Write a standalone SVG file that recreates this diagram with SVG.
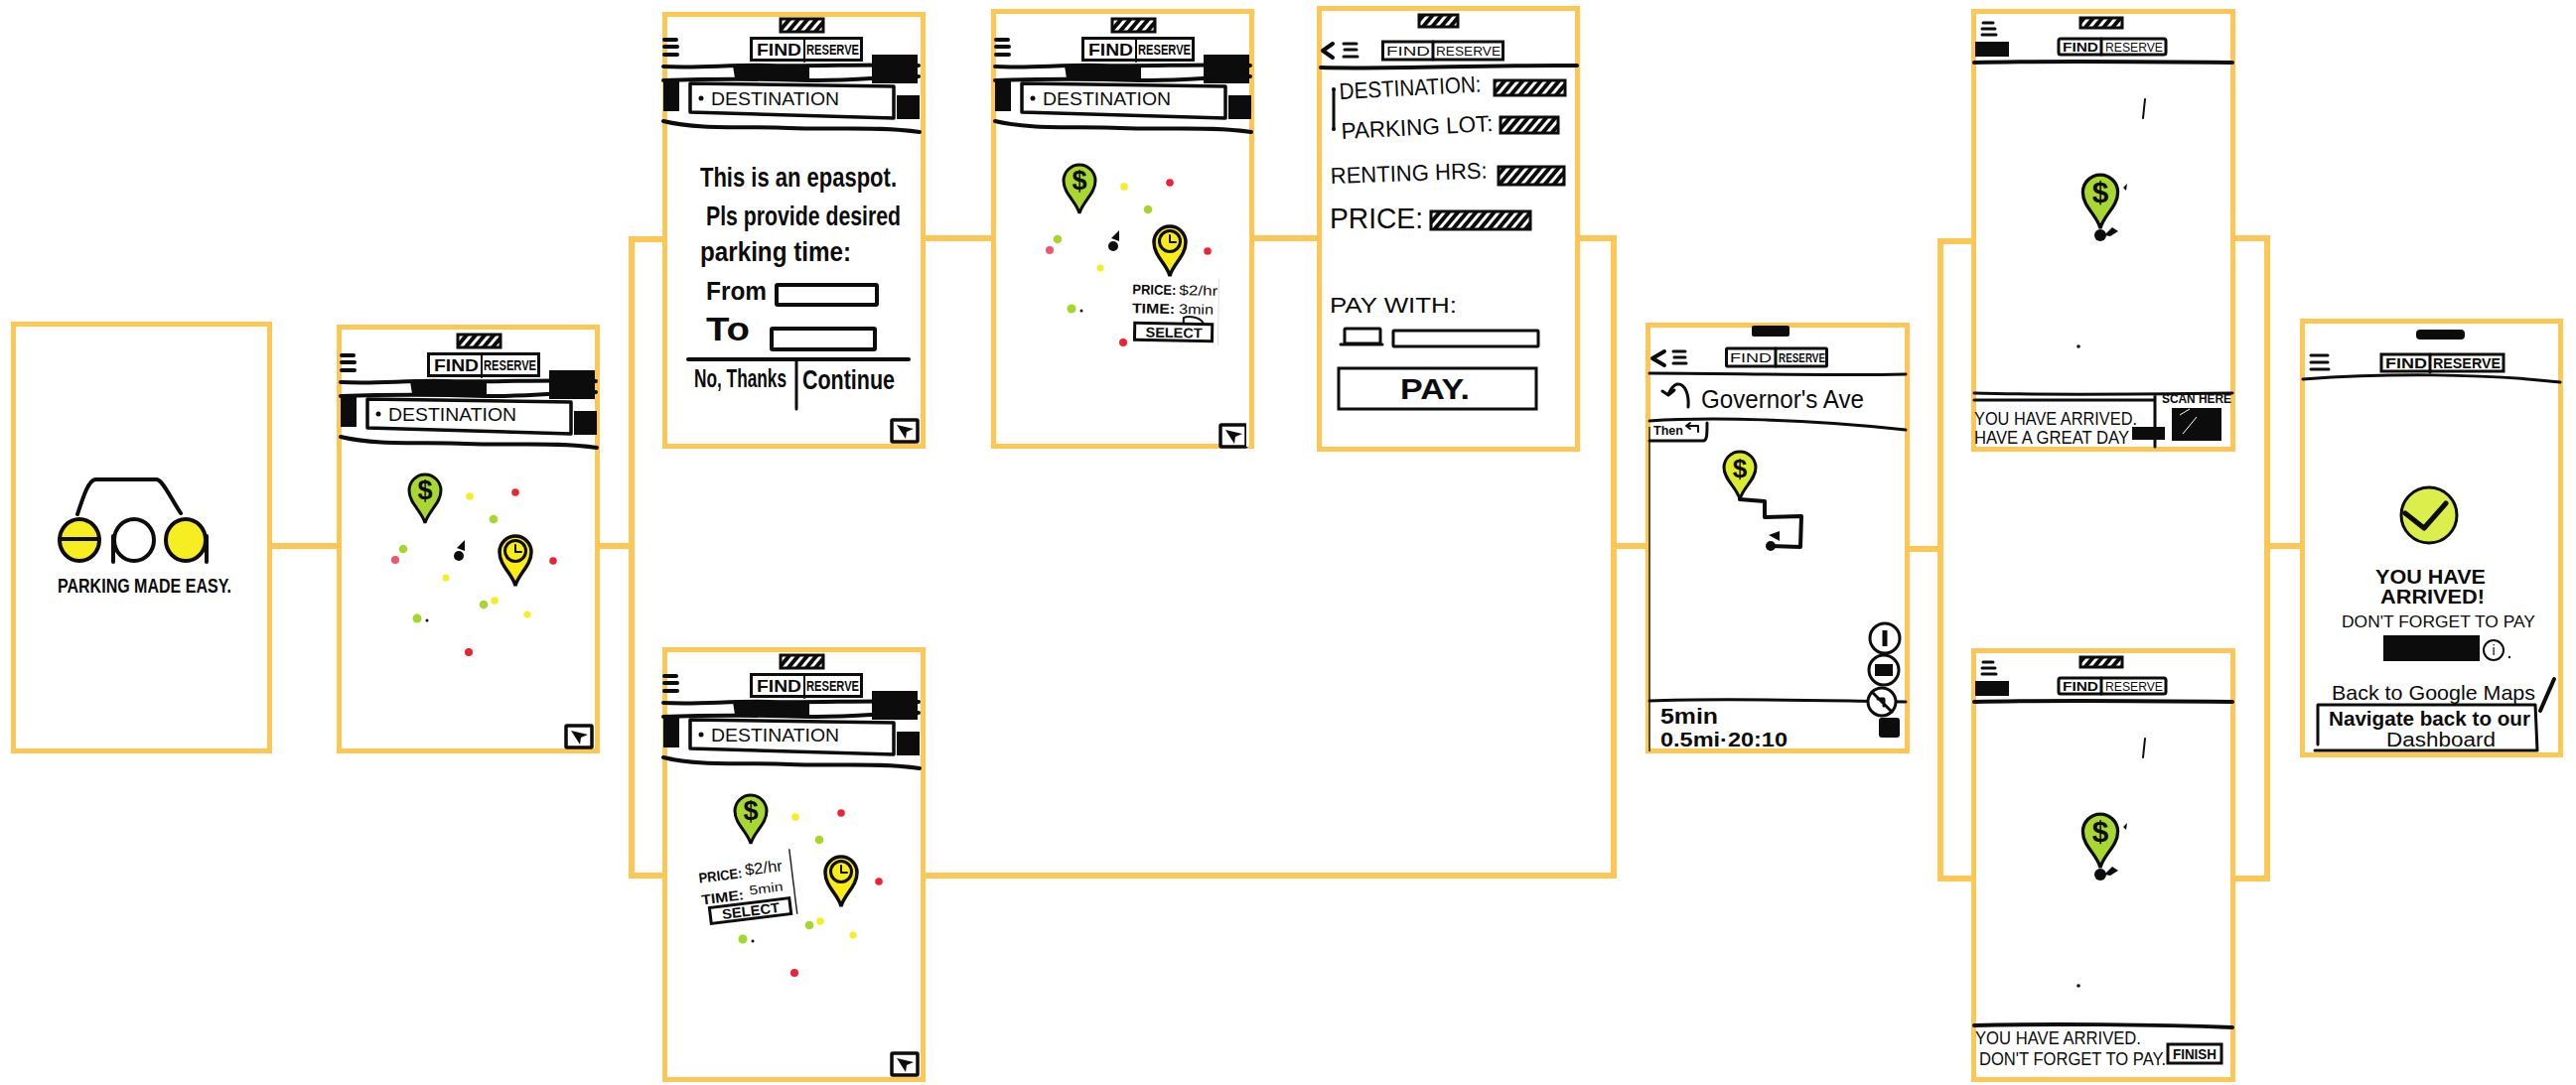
<svg xmlns="http://www.w3.org/2000/svg" width="2594" height="1093" viewBox="0 0 2594 1093">
<style>
text{font-family:"Liberation Sans",Arial,sans-serif;fill:#0c0c0c}
.frame{fill:#fff;stroke:#FDC655;stroke-width:5}
.conn{fill:none;stroke:#FDC655;stroke-width:6;stroke-linejoin:miter}
.k{fill:none;stroke:#0c0c0c;stroke-width:3;stroke-linecap:round;stroke-linejoin:round}
.k2{fill:none;stroke:#0c0c0c;stroke-width:2;stroke-linecap:round;stroke-linejoin:round}
.k4{fill:none;stroke:#0c0c0c;stroke-width:4;stroke-linecap:round;stroke-linejoin:round}
.bk{fill:#0c0c0c}
.hb{fill:url(#hatch);stroke:#0c0c0c;stroke-width:3}
.w{fill:#fff;stroke:none}
.g{fill:#A3D82B}.y{fill:#F7EE21}.r{fill:#EE2233}.p{fill:#F0556B}
.bold{font-weight:700}
</style>
<defs>
<pattern id="hatch" width="7" height="7" patternUnits="userSpaceOnUse" patternTransform="rotate(40)"><rect width="7" height="7" fill="#fff"/><rect width="4" height="7" fill="#0c0c0c"/></pattern>
<g id="pin-dollar"><path d="M0 0C-3-12-16-20-16-33A16 16 0 0 1 16-33C16-20 3-12 0 0Z" fill="#A9D732" stroke="#0c0c0c" stroke-width="3"/><text x="0" y="-24" font-size="27" font-weight="700" text-anchor="middle">$</text></g>
<g id="pin-clock"><path d="M0 0C-3-12-16-20-16-34A16 16 0 0 1 16-34C16-20 3-12 0 0Z" fill="#F9EC16" stroke="#0c0c0c" stroke-width="3.500"/><circle cy="-35" r="10.500" fill="#F9EC16" stroke="#0c0c0c" stroke-width="3"/><path d="M0-41V-34H6" class="k2"/></g>
<g id="arrowbox"><rect width="26" height="22" rx="1" fill="#fff" stroke="#0c0c0c" stroke-width="3.500"/><path d="M5 5 22 9 15 12 14 19Z" class="bk"/></g>
<g id="header">
<rect x="122" y="10" width="43" height="13" class="hb"/>
<path d="M5 31H17M5 38H18M5 46H18" class="k4"/>
<rect x="92.500" y="29.500" width="111" height="22" fill="#fff" stroke="#0c0c0c" stroke-width="3"/>
<path d="M146 29V53" class="k2"/>
<text x="98" y="47" font-size="17" class="bold" textLength="45" lengthAdjust="spacingAndGlyphs">FIND</text>
<text x="148" y="46" font-size="14" class="bold" textLength="53" lengthAdjust="spacingAndGlyphs">RESERVE</text>
<path d="M4 58C40 60 70 56 110 57 160 58 220 55 261 57" class="k4"/>
<path d="M4 72C60 70 120 71 150 72 190 73 230 68 261 68" class="k4"/>
<path d="M74 57H151V70H76Z" class="bk"/>
<rect x="214" y="46" width="46" height="29" class="bk"/>
<rect x="4" y="72" width="16" height="31" class="bk"/>
<path d="M31 75 236 78V110L31 104Z" fill="#fff" stroke="#0c0c0c" stroke-width="3.500" stroke-linejoin="round"/>
<circle cx="42" cy="90" r="2.500" class="bk"/>
<text x="52" y="97" font-size="18" textLength="129" lengthAdjust="spacingAndGlyphs">DESTINATION</text>
<rect x="239" y="87" width="23" height="24" class="bk"/>
<path d="M4 113C40 122 90 118 130 120 180 122 220 118 262 124" class="k4"/>
</g>
<g id="dots">
<circle cx="134" cy="173" r="3.800" class="y"/><circle cx="180" cy="169" r="3.800" class="r"/>
<circle cx="158" cy="196" r="4.300" class="g"/><circle cx="67" cy="226" r="4.300" class="g"/>
<circle cx="59" cy="237" r="4" class="p"/><circle cx="110" cy="255" r="3.500" class="y"/>
<circle cx="218" cy="238" r="3.800" class="r"/><circle cx="148" cy="282" r="4.300" class="g"/>
<circle cx="159" cy="278" r="3.800" class="y"/><circle cx="192" cy="292" r="3.600" class="y"/>
<circle cx="81" cy="296" r="4.500" class="g"/><circle cx="91" cy="298" r="1.500" class="bk"/>
<circle cx="133" cy="330" r="4" class="r"/><circle cx="123" cy="233" r="5" class="bk"/>
<path d="M121 225 129 217V228Z" class="bk"/>
<use href="#pin-dollar" x="89" y="200"/><use href="#pin-clock" x="180" y="263"/>
</g>
<g id="arrival">
<rect x="110" y="9" width="42" height="10" class="hb"/>
<path d="M12 14H22M11 20H24M11 26H25" class="k"/>
<rect x="4" y="33" width="34" height="15" class="bk"/>
<rect x="88" y="30" width="108" height="16" rx="2" fill="#fff" stroke="#0c0c0c" stroke-width="3"/>
<path d="M131 30V46" class="k"/>
<text x="92" y="43" font-size="13" class="bold" textLength="36" lengthAdjust="spacingAndGlyphs">FIND</text>
<text x="135" y="43" font-size="13" textLength="58" lengthAdjust="spacingAndGlyphs">RESERVE</text>
<path d="M3 54C80 52 180 53 263 54" class="k4"/>
<path d="M175 91 173 110" class="k2"/>
<g transform="translate(130 221) scale(1.100)"><use href="#pin-dollar"/></g>
<circle cx="130" cy="228" r="6" class="bk"/><path d="M134 228 142 220 148 224 140 229Z" class="bk"/>
<path d="M157 176 156 183 153 180Z" class="bk"/>
<circle cx="108" cy="340" r="1.800" class="bk"/>
</g>
</defs>

<g id="connectors">
<path class="conn" d="M274 550H339"/>
<path class="conn" d="M604 550H636M667 241H636V882H667"/>
<path class="conn" d="M932 240H998M1263 240H1326"/>
<path class="conn" d="M1591 240H1625V882H932"/>
<path class="conn" d="M1625 550H1657"/>
<path class="conn" d="M1923 553H1954M1985 243H1954V885H1985"/>
<path class="conn" d="M2251 240H2283V885H2251"/>
<path class="conn" d="M2283 550H2316"/>
</g>

<g id="node-splash">
<rect x="13.500" y="326.500" width="258" height="430" class="frame"/>
<path d="M78 518C84 500 89 484 96 483H158C164 484 172 502 182 517" class="k4"/>
<ellipse cx="80" cy="544" rx="20" ry="21" fill="#F7EE21" stroke="#0c0c0c" stroke-width="4"/>
<path d="M60 543H100" class="k4"/>
<ellipse cx="135" cy="544" rx="20" ry="21" fill="#fff" stroke="#0c0c0c" stroke-width="4"/>
<path d="M114 540V566" class="k4"/>
<ellipse cx="187" cy="544" rx="20" ry="21" fill="#F7EE21" stroke="#0c0c0c" stroke-width="4"/>
<path d="M208 540V566" class="k4"/>
<text x="58" y="597" font-size="20" class="bold" textLength="175" lengthAdjust="spacingAndGlyphs">PARKING MADE EASY.</text>
</g>

<g id="node-map">
<rect x="341.500" y="329.500" width="260" height="427" class="frame"/>
<use href="#header" x="339" y="327"/>
<use href="#dots" x="339" y="327"/>
<use href="#arrowbox" x="570" y="731"/>
</g>

<g id="node-form">
<rect x="669.500" y="14.500" width="260" height="435" class="frame"/>
<use href="#header" x="664" y="9"/>
<text x="705" y="188" font-size="28" class="bold" textLength="198" lengthAdjust="spacingAndGlyphs">This is an epaspot.</text>
<text x="711" y="227" font-size="28" class="bold" textLength="196" lengthAdjust="spacingAndGlyphs">Pls provide desired</text>
<text x="705" y="263" font-size="28" class="bold" textLength="152" lengthAdjust="spacingAndGlyphs">parking time:</text>
<text x="711" y="302" font-size="26" class="bold" textLength="61" lengthAdjust="spacingAndGlyphs">From</text>
<rect x="782" y="287" width="101" height="20" rx="1" fill="#fff" stroke="#0c0c0c" stroke-width="4"/>
<text x="711" y="343" font-size="34" class="bold" textLength="44" lengthAdjust="spacingAndGlyphs">To</text>
<rect x="777" y="331" width="104" height="21" rx="1" fill="#fff" stroke="#0c0c0c" stroke-width="4"/>
<path d="M693 362H915" class="k4"/><path d="M802 362V412" class="k"/>
<text x="699" y="390" font-size="26" class="bold" textLength="93" lengthAdjust="spacingAndGlyphs">No, Thanks</text>
<text x="808" y="392" font-size="28" class="bold" textLength="93" lengthAdjust="spacingAndGlyphs">Continue</text>
<use href="#arrowbox" x="898" y="423"/>
</g>

<g id="node-select-clock">
<rect x="1000.500" y="11.500" width="260" height="438" class="frame"/>
<use href="#header" x="998" y="9"/>
<use href="#dots" x="998" y="15"/>
<use href="#arrowbox" x="1229" y="428"/>
<rect x="1255" y="425" width="3" height="25" class="w"/>
<g transform="rotate(1 1183 312)">
<rect x="1138" y="280" width="90" height="67" class="w"/>
<path d="M1227 280V347" stroke="#ddd" stroke-width="1"/>
<text x="1140" y="297" font-size="14" class="bold" textLength="44" lengthAdjust="spacingAndGlyphs">PRICE:</text>
<text x="1187" y="297" font-size="14" textLength="39" lengthAdjust="spacingAndGlyphs">$2/hr</text>
<text x="1140" y="316" font-size="14" class="bold" textLength="43" lengthAdjust="spacingAndGlyphs">TIME:</text>
<text x="1187" y="316" font-size="14" textLength="35" lengthAdjust="spacingAndGlyphs">3min</text>
<path d="M1192 325V320C1196 318 1208 318 1212 325" class="k2"/>
<rect x="1143" y="326" width="78" height="17" fill="#fff" stroke="#0c0c0c" stroke-width="3"/>
<text x="1154" y="340" font-size="14" class="bold" textLength="57" lengthAdjust="spacingAndGlyphs">SELECT</text>
</g>
</g>

<g id="node-select-dollar">
<rect x="669.500" y="654.500" width="260" height="433" class="frame"/>
<use href="#header" x="664" y="650"/>
<use href="#dots" x="667" y="650"/>
<use href="#arrowbox" x="898" y="1061"/>
<g transform="rotate(-7 750 893)">
<rect x="703" y="861" width="97" height="66" class="w"/>
<path d="M799 861V927" stroke="#222" stroke-width="1.500"/>
<text x="705" y="884" font-size="14" class="bold" textLength="44" lengthAdjust="spacingAndGlyphs">PRICE:</text>
<text x="752" y="882" font-size="16" textLength="38" lengthAdjust="spacingAndGlyphs">$2/hr</text>
<text x="705" y="906" font-size="14" class="bold" textLength="43" lengthAdjust="spacingAndGlyphs">TIME:</text>
<text x="754" y="902" font-size="13" textLength="34" lengthAdjust="spacingAndGlyphs">5min</text>
<rect x="712" y="910" width="81" height="16" fill="#fff" stroke="#0c0c0c" stroke-width="3"/>
<text x="724" y="923" font-size="14" class="bold" textLength="58" lengthAdjust="spacingAndGlyphs">SELECT</text>
</g>
</g>

<g id="node-pay">
<rect x="1328.500" y="8.500" width="260" height="444" class="frame"/>
<rect x="1429" y="15" width="39" height="12" class="hb"/>
<path d="M1342 44 1332 51 1342 58" class="k4"/>
<path d="M1353 44H1366M1354 50H1366M1353 57H1367" class="k"/>
<rect x="1392.500" y="42" width="121" height="18" fill="#fff" stroke="#0c0c0c" stroke-width="3"/>
<path d="M1443 42V60" class="k"/>
<text x="1396" y="56" font-size="13" textLength="44" lengthAdjust="spacingAndGlyphs">FIND</text>
<text x="1446" y="56" font-size="13" textLength="65" lengthAdjust="spacingAndGlyphs">RESERVE</text>
<path d="M1330 68C1400 70 1500 65 1588 66" class="k4"/>
<path d="M1343 90V130" class="k"/><circle cx="1343" cy="90" r="2" class="bk"/><circle cx="1343" cy="130" r="2" class="bk"/>
<text x="1349" y="100" font-size="23" transform="rotate(-3 1349 100)" textLength="143" lengthAdjust="spacingAndGlyphs">DESTINATION:</text>
<rect x="1505" y="81" width="71" height="15" class="hb"/>
<text x="1351" y="140" font-size="23" transform="rotate(-3 1351 140)" textLength="153" lengthAdjust="spacingAndGlyphs">PARKING LOT:</text>
<rect x="1511" y="118" width="58" height="16" class="hb"/>
<text x="1340" y="185" font-size="23" transform="rotate(-2 1340 185)" textLength="158" lengthAdjust="spacingAndGlyphs">RENTING HRS:</text>
<rect x="1509" y="168" width="66" height="18" class="hb"/>
<text x="1339" y="230" font-size="30" textLength="94" lengthAdjust="spacingAndGlyphs">PRICE:</text>
<rect x="1441" y="213" width="100" height="18" class="hb"/>
<text x="1339" y="315" font-size="22" textLength="128" lengthAdjust="spacingAndGlyphs">PAY WITH:</text>
<rect x="1354" y="331" width="36" height="15" rx="1" fill="#fff" stroke="#0c0c0c" stroke-width="3"/>
<path d="M1350 347H1392" class="k"/>
<rect x="1403" y="333" width="146" height="16" rx="1" fill="#fff" stroke="#0c0c0c" stroke-width="3"/>
<rect x="1348" y="371" width="199" height="41" fill="#fff" stroke="#0c0c0c" stroke-width="3"/>
<text x="1410" y="402" font-size="30" class="bold" textLength="70" lengthAdjust="spacingAndGlyphs">PAY.</text>
</g>

<g id="node-navigate">
<rect x="1659.500" y="327.500" width="261" height="429" class="frame"/>
<path d="M1661 430V757" stroke="#222" stroke-width="1.500"/>
<rect x="1764" y="328" width="38" height="11" rx="2" class="bk"/>
<path d="M1676 354 1664 361 1676 368" class="k4"/>
<path d="M1685 354H1697M1686 360H1697M1685 366H1698" class="k"/>
<rect x="1738.500" y="351" width="101" height="18" rx="1" fill="#fff" stroke="#0c0c0c" stroke-width="3"/>
<path d="M1788 351V369" class="k"/>
<text x="1742" y="365" font-size="13" textLength="42" lengthAdjust="spacingAndGlyphs">FIND</text>
<text x="1791" y="365" font-size="13" class="bold" textLength="47" lengthAdjust="spacingAndGlyphs">RESERVE</text>
<path d="M1661 376C1740 376 1840 379 1919 377" class="k"/>
<path d="M1700 410C1701 398 1697 386 1689 387 1684 388 1682 393 1680 397M1674 394 1680 398 1686 393" class="k"/>
<text x="1713" y="411" font-size="26" textLength="164" lengthAdjust="spacingAndGlyphs">Governor's Ave</text>
<path d="M1661 424C1720 420 1820 422 1919 433" class="k"/>
<path d="M1661 444H1715C1719 444 1719 438 1719 426" class="k"/>
<text x="1665" y="438" font-size="13" class="bold" textLength="30" lengthAdjust="spacingAndGlyphs">Then</text>
<path d="M1710 435V429H1698M1702 426 1698 429 1702 432" class="k2"/>
<g transform="translate(1752 503)"><path d="M0 0C-3-12-16-20-16-32A16 16 0 0 1 16-32C16-20 3-12 0 0Z" fill="#DDEB2E" stroke="#0c0c0c" stroke-width="3"/><text y="-22" font-size="26" font-weight="700" text-anchor="middle">$</text></g>
<path d="M1752 503 1777 505V521L1814 520 1813 551 1783 550" class="k4"/>
<circle cx="1783" cy="550" r="5" class="bk"/><path d="M1781 539 1792 535V545Z" class="bk"/>
<circle cx="1898" cy="643" r="15" fill="#fff" stroke="#0c0c0c" stroke-width="3"/><path d="M1898 635V651" stroke="#0c0c0c" stroke-width="5"/>
<circle cx="1897" cy="675" r="15" fill="#fff" stroke="#0c0c0c" stroke-width="3"/><rect x="1888" y="669" width="18" height="12" class="bk"/>
<path d="M1661 706C1740 703 1840 706 1919 707" class="k"/>
<circle cx="1895" cy="707" r="14" fill="#fff" stroke="#0c0c0c" stroke-width="3"/><path d="M1885 697 1905 717M1891 704H1897V711" class="k"/>
<rect x="1892" y="723" width="21" height="20" rx="3" class="bk"/>
<text x="1672" y="729" font-size="22" class="bold" textLength="58" lengthAdjust="spacingAndGlyphs">5min</text>
<text x="1672" y="752" font-size="20" class="bold" textLength="128" lengthAdjust="spacingAndGlyphs">0.5mi·20:10</text>
</g>

<g id="node-scan">
<rect x="1987.500" y="11.500" width="261" height="441" class="frame"/>
<use href="#arrival" x="1985" y="9"/>
<path d="M1988 396C2060 398 2170 397 2248 396M1988 403H2170M2170 397V450" class="k"/>
<text x="2177" y="406" font-size="12" class="bold" textLength="70" lengthAdjust="spacingAndGlyphs">SCAN HERE</text>
<rect x="2187" y="411" width="50" height="33" class="bk"/>
<path d="M2195 418 2205 412M2198 437 2212 420" stroke="#fff" stroke-width="1"/>
<text x="1988" y="428" font-size="18" textLength="164" lengthAdjust="spacingAndGlyphs">YOU HAVE ARRIVED.</text>
<text x="1988" y="447" font-size="18" textLength="156" lengthAdjust="spacingAndGlyphs">HAVE A GREAT DAY</text>
<rect x="2147" y="430" width="33" height="13" class="bk"/>
</g>

<g id="node-finish">
<rect x="1987.500" y="655.500" width="261" height="432" class="frame"/>
<use href="#arrival" x="1985" y="653"/>
<path d="M1988 1033C2060 1031 2170 1032 2248 1035" class="k4"/>
<text x="1989" y="1052" font-size="18" textLength="167" lengthAdjust="spacingAndGlyphs">YOU HAVE ARRIVED.</text>
<text x="1993" y="1073" font-size="18" textLength="188" lengthAdjust="spacingAndGlyphs">DON'T FORGET TO PAY.</text>
<rect x="2183" y="1052" width="54" height="19" fill="#fff" stroke="#0c0c0c" stroke-width="3"/>
<text x="2188" y="1067" font-size="15" class="bold" textLength="44" lengthAdjust="spacingAndGlyphs">FINISH</text>
</g>

<g id="node-arrived">
<rect x="2318.500" y="323.500" width="260" height="437" class="frame"/>
<rect x="2433" y="332" width="49" height="10" rx="4" class="bk"/>
<path d="M2327 358H2344M2327 365H2344M2327 372H2345" class="k"/>
<rect x="2398" y="357" width="123" height="17" fill="#fff" stroke="#0c0c0c" stroke-width="3"/>
<path d="M2447 357V375" class="k"/>
<text x="2402" y="371" font-size="14" class="bold" textLength="42" lengthAdjust="spacingAndGlyphs">FIND</text>
<text x="2450" y="371" font-size="14" class="bold" textLength="68" lengthAdjust="spacingAndGlyphs">RESERVE</text>
<path d="M2319 382C2400 376 2500 376 2578 385" class="k"/>
<circle cx="2446" cy="519" r="28" fill="#DCEE4C" stroke="#0c0c0c" stroke-width="3"/>
<path d="M2422 517 2441 532 2463 507" fill="none" stroke="#0c0c0c" stroke-width="5" stroke-linecap="round" stroke-linejoin="round"/>
<text x="2392" y="588" font-size="20" class="bold" textLength="111" lengthAdjust="spacingAndGlyphs">YOU HAVE</text>
<text x="2397" y="608" font-size="20" class="bold" textLength="105" lengthAdjust="spacingAndGlyphs">ARRIVED!</text>
<text x="2358" y="632" font-size="16" textLength="195" lengthAdjust="spacingAndGlyphs">DON'T FORGET TO PAY</text>
<rect x="2400" y="640" width="97" height="26" class="bk"/>
<circle cx="2511" cy="655" r="10" fill="#fff" stroke="#0c0c0c" stroke-width="2"/>
<text x="2511" y="660" font-size="14" text-anchor="middle">i</text>
<circle cx="2527" cy="662" r="1.200" class="bk"/>
<text x="2348" y="705" font-size="21" textLength="205" lengthAdjust="spacingAndGlyphs">Back to Google Maps</text>
<path d="M2572 684 2558 716" class="k4"/>
<path d="M2334 710H2553L2555 756H2331M2334 710V750" class="k"/>
<text x="2345" y="731" font-size="20" class="bold" textLength="203" lengthAdjust="spacingAndGlyphs">Navigate back to our</text>
<text x="2403" y="752" font-size="20" textLength="110" lengthAdjust="spacingAndGlyphs">Dashboard</text>
</g>
</svg>
